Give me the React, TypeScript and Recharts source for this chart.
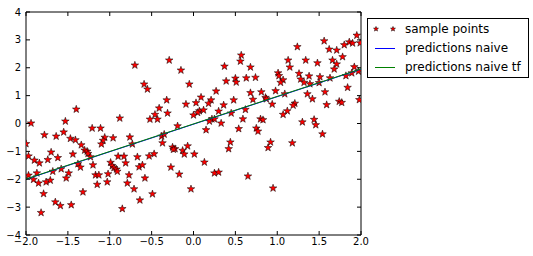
import React from 'react';
import { ScatterChart, Scatter, XAxis, YAxis } from 'recharts';

// sample points
const sampleX = [
  -1.94, -1.53, -1.4, -0.88, -0.7, -0.29, -0.15, -0.59, -0.55, -0.05,
  0.57, 0.56, 0.37, 0.68, 0.39, 0.5, 0.51, 0.63, 0.68, 0.27,
  0.48, -0.32, -0.41, -0.09, 0.03, 0.09, 0.21, 0.18, 0.36, 0.3,
  0.45, 0.07, 0.05, 0.12, -0.31, -0.46, -0.52, -0.43, 0.0, 0.22,
  0.25, 0.19, 0.33, 0.59, 0.62, -0.19, 1.95, 1.56, 1.8, 1.86,
  1.9, 1.99, 1.24, 1.62, 1.71, 1.78, 1.13, 1.34, 1.48, 1.66,
  1.71, 1.15, 1.68, 1.92, 1.97, 1.89, 1.01, 1.02, 1.26, 1.38,
  1.28, 1.51, 1.63, 1.82, 0.74, 1.07, 1.04, 1.32, 1.39, 1.5,
  1.57, 1.84, 0.81, 0.98, 0.71, 0.86, 0.87, 1.09, 1.36, 1.42,
  1.98, 0.94, 1.21, 1.19, 1.59, 1.74, 1.77, 1.12, 1.07, 0.8,
  0.83, 1.3, 1.44, 1.46, -1.21, -1.11, -1.78, -1.64, -1.55, -1.47,
  -1.41, -1.34, -1.06, -1.08, -0.96, -1.1, -0.76, -0.73, -2.0, -1.3,
  -1.27, -1.26, -1.44, -1.23, -1.7, -1.97, -1.9, -1.84, -1.74, -1.62,
  -1.38, -1.35, -1.2, -0.99, -0.97, -0.95, -0.92, -0.91, -0.9, -0.83,
  -0.81, -0.67, -1.68, -1.58, -1.49, -1.52, -1.17, -1.13, -1.02, -0.77,
  -1.97, -1.87, -1.91, -1.85, -1.76, -1.71, -1.15, -1.03, -0.79, -0.71,
  -1.79, -1.32, -1.65, -1.59, -1.46, -0.85, -1.82, -0.38, -0.35, -0.37,
  0.15, 0.54, 0.44, 0.42, -0.25, -0.22, -0.24, -0.13, -0.07, -0.11,
  0.01, -0.53, -0.47, 0.13, -0.65, -0.61, -0.27, -0.58, -0.17, 0.25,
  0.3, 0.65, -0.49, -0.03, -0.64, 0.75, 0.77, 1.54, 0.92, 0.89,
  1.18, 0.95,
];
const sampleY = [
  0.01, 0.08, 0.51, 0.19, 2.09, 2.27, 1.91, 1.41, 1.23, 1.41,
  2.45, 2.23, 2.05, 2.02, 1.52, 1.62, 1.48, 1.63, 1.1, 1.16,
  0.84, 0.84, 0.55, 0.69, 0.74, 0.94, 0.84, 0.72, 0.66, 0.44,
  0.37, 0.45, 0.39, 0.48, 0.37, 0.32, 0.15, 0.15, 0.3, 0.16,
  0.16, 0.08, 0.01, 0.16, 0.5, -0.09, 3.16, 2.96, 2.82, 2.92,
  2.88, 2.89, 2.75, 2.66, 2.63, 2.39, 2.27, 2.27, 2.17, 2.27,
  2.13, 2.02, 1.95, 2.03, 1.87, 1.81, 1.81, 1.71, 1.79, 1.7,
  1.59, 1.67, 1.63, 1.71, 1.65, 1.56, 1.47, 1.47, 1.42, 1.46,
  1.13, 1.29, 1.13, 1.17, 0.86, 0.93, 0.88, 1.06, 1.06, 0.88,
  0.85, 0.69, 0.72, 0.65, 0.67, 0.79, 0.75, 0.45, 0.32, 0.16,
  0.13, 0.05, 0.14, -0.05, -0.17, -0.17, -0.41, -0.46, -0.31, -0.54,
  -0.59, -0.77, -0.5, -0.61, -0.52, -0.74, -0.49, -0.74, -0.73, -0.96,
  -1.0, -1.08, -1.1, -1.2, -1.03, -1.17, -1.32, -1.42, -1.3, -1.23,
  -1.45, -1.57, -1.49, -1.4, -1.52, -1.59, -1.64, -1.72, -1.18, -1.18,
  -1.42, -1.2, -1.72, -1.63, -1.78, -1.96, -1.85, -1.85, -1.81, -1.85,
  -1.86, -1.78, -2.01, -2.14, -2.1, -2.04, -2.19, -2.1, -2.14, -2.35,
  -2.52, -2.46, -2.82, -2.95, -2.92, -3.06, -3.2, -0.46, -0.39, -0.7,
  -0.23, -0.19, -0.67, -0.91, -0.85, -0.91, -0.93, -0.97, -0.81, -1.1,
  -1.1, -1.17, -1.09, -1.39, -1.56, -1.49, -1.57, -1.96, -1.82, -1.78,
  -1.75, -1.89, -2.53, -2.35, -2.75, -0.17, -0.28, -0.38, -0.67, -0.87,
  -0.7, -2.32,
];

// the two fitted lines (end points)
const lineX = [-2, 2];
const naiveY = [-2.0, 1.95];
const naiveTfY = [-1.99, 1.96];

const xTicks = [-2, -1.5, -1, -0.5, 0, 0.5, 1, 1.5, 2];
const yTicks = [-4, -3, -2, -1, 0, 1, 2, 3, 4];
const legendLabels = ['sample points', 'predictions naive', 'predictions naive tf'];

const samplePoints = sampleX.map((x, i) => ({ x, y: sampleY[i] }));
const naiveLine = lineX.map((x, i) => ({ x, y: naiveY[i] }));
const naiveTfLine = lineX.map((x, i) => ({ x, y: naiveTfY[i] }));

const FONT = '"DejaVu Sans", sans-serif';
const minus = (s: string) => s.replace('-', '\u2212');
const fmtX = (v: number) => minus(v.toFixed(1));
const fmtY = (v: number) => minus(String(v));

const starPath = (cx: number, cy: number, R = 4, r = 1.6) => {
  let d = '';
  for (let k = 0; k < 10; k++) {
    const rad = k % 2 === 0 ? R : r;
    const a = -Math.PI / 2 + (k * Math.PI) / 5;
    d += (k ? 'L' : 'M') + (cx + rad * Math.cos(a)).toFixed(2) + ',' + (cy + rad * Math.sin(a)).toFixed(2);
  }
  return d + 'Z';
};

const StarShape = (props: any) => {
  const { cx, cy } = props;
  if (cx == null || cy == null) return <g />;
  return <path d={starPath(cx, cy)} fill="#ff0000" stroke="#000" strokeWidth={0.5} />;
};

const NoShape = () => <g />;

const BottomTick = (props: any) => {
  const { x, y, payload } = props;
  return (
    <g>
      <line x1={x} y1={y} x2={x} y2={y - 4} stroke="#000" />
      <text x={x} y={y + 10} textAnchor="middle" fontSize={10} fontFamily={FONT} fill="#000">
        {fmtX(payload.value)}
      </text>
    </g>
  );
};

const TopTick = (props: any) => {
  const { x, y } = props;
  return <line x1={x} y1={y} x2={x} y2={y + 4} stroke="#000" />;
};

const LeftTick = (props: any) => {
  const { x, y, payload } = props;
  return (
    <g>
      <line x1={x} y1={y} x2={x + 4} y2={y} stroke="#000" />
      <text x={x - 5} y={y} dy="0.36em" textAnchor="end" fontSize={10} fontFamily={FONT} fill="#000">
        {fmtY(payload.value)}
      </text>
    </g>
  );
};

const RightTick = (props: any) => {
  const { x, y } = props;
  return <line x1={x} y1={y} x2={x - 4} y2={y} stroke="#000" />;
};

const LegendBox = () => (
  <div
    style={{
      position: 'absolute',
      left: 367,
      top: 18,
      width: 162,
      height: 60,
      boxSizing: 'border-box',
      border: '1px solid #000',
      background: '#fff',
      fontFamily: FONT,
      fontSize: 12,
      color: '#000',
      paddingTop: 1,
    }}
  >
    {legendLabels.map((label, i) => (
      <div key={label} style={{ height: 18.7, display: 'flex', alignItems: 'center' }}>
        <svg width={37} height={18} style={{ flex: 'none' }}>
          {i === 0 ? (
            <>
              <path d={starPath(8, 9, 2.6, 1.1)} fill="#ff0000" stroke="#000" strokeWidth={0.5} />
              <path d={starPath(25, 9, 2.6, 1.1)} fill="#ff0000" stroke="#000" strokeWidth={0.5} />
            </>
          ) : (
            <line x1={7} y1={9.5} x2={27} y2={9.5} stroke={i === 1 ? '#0000ff' : '#008000'} strokeWidth={1} />
          )}
        </svg>
        <span style={{ whiteSpace: 'nowrap' }}>{label}</span>
      </div>
    ))}
  </div>
);

export default function App() {
  return (
    <div style={{ position: 'absolute', left: 0, top: 0, width: 533, height: 256, background: '#fff' }}>
      <ScatterChart width={533} height={256} margin={{ top: 0, right: 0, bottom: 0, left: 0 }}>
        <XAxis
          xAxisId="bottom"
          type="number"
          dataKey="x"
          domain={[-2, 2]}
          ticks={xTicks}
          interval={0}
          height={21}
          tickSize={0}
          tickMargin={0}
          tickLine={false}
          axisLine={{ stroke: '#000' }}
          tick={(p: any) => <BottomTick {...p} />}
          allowDataOverflow
        />
        <XAxis
          xAxisId="top"
          orientation="top"
          type="number"
          dataKey="x"
          domain={[-2, 2]}
          ticks={xTicks}
          interval={0}
          height={12}
          tickSize={0}
          tickMargin={0}
          tickLine={false}
          axisLine={{ stroke: '#000' }}
          tick={(p: any) => <TopTick {...p} />}
          allowDataOverflow
        />
        <YAxis
          yAxisId="left"
          type="number"
          dataKey="y"
          domain={[-4, 4]}
          ticks={yTicks}
          interval={0}
          width={26}
          tickSize={0}
          tickMargin={0}
          tickLine={false}
          axisLine={{ stroke: '#000' }}
          tick={(p: any) => <LeftTick {...p} />}
          allowDataOverflow
        />
        <YAxis
          yAxisId="right"
          orientation="right"
          type="number"
          dataKey="y"
          domain={[-4, 4]}
          ticks={yTicks}
          interval={0}
          width={172}
          tickSize={0}
          tickMargin={0}
          tickLine={false}
          axisLine={{ stroke: '#000' }}
          tick={(p: any) => <RightTick {...p} />}
          allowDataOverflow
        />
        <Scatter
          name="sample points"
          xAxisId="bottom"
          yAxisId="left"
          data={samplePoints}
          fill="#ff0000"
          shape={(p: any) => <StarShape {...p} />}
          isAnimationActive={false}
        />
        <Scatter
          name="predictions naive"
          xAxisId="bottom"
          yAxisId="left"
          data={naiveLine}
          fill="#0000ff"
          line={{ stroke: '#0000ff', strokeWidth: 1 }}
          shape={NoShape}
          isAnimationActive={false}
        />
        <Scatter
          name="predictions naive tf"
          xAxisId="bottom"
          yAxisId="left"
          data={naiveTfLine}
          fill="#008000"
          line={{ stroke: '#008000', strokeWidth: 1 }}
          shape={NoShape}
          isAnimationActive={false}
        />
      </ScatterChart>
      <LegendBox />
    </div>
  );
}
